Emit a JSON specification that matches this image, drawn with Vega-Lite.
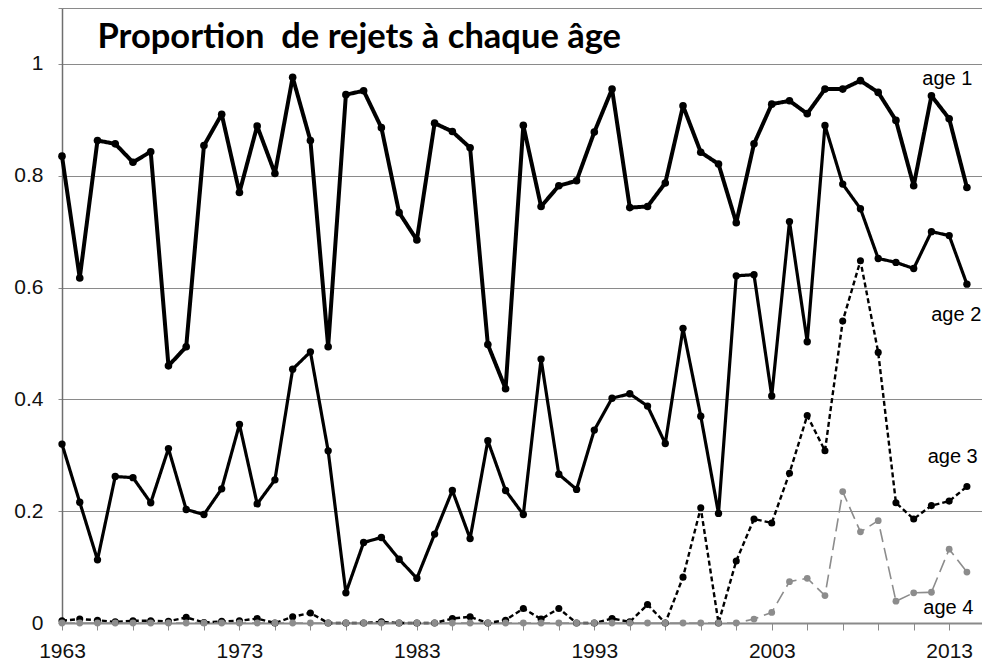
{
  "$schema": "https://vega.github.io/schema/vega-lite/v6.json",
  "autosize": {"type": "none"},
  "width": 920,
  "height": 615,
  "padding": {"left": 62, "top": 8, "right": 0, "bottom": 39},
  "background": "white",
  "config": {
    "view": {"stroke": null},
    "axis": {"labelFont": "Liberation Sans", "labelFontSize": 21, "labelColor": "#111111", "labelOverlap": false}
  },
  "datasets": {
    "main": [
      {"year": 1963, "a1": 0.835, "a2": 0.320, "a3": 0.004, "a4": 0},
      {"year": 1964, "a1": 0.617, "a2": 0.216, "a3": 0.007, "a4": 0},
      {"year": 1965, "a1": 0.863, "a2": 0.113, "a3": 0.005, "a4": 0},
      {"year": 1966, "a1": 0.857, "a2": 0.262, "a3": 0.002, "a4": 0},
      {"year": 1967, "a1": 0.824, "a2": 0.260, "a3": 0.004, "a4": 0},
      {"year": 1968, "a1": 0.843, "a2": 0.215, "a3": 0.004, "a4": 0},
      {"year": 1969, "a1": 0.460, "a2": 0.312, "a3": 0.003, "a4": 0},
      {"year": 1970, "a1": 0.494, "a2": 0.203, "a3": 0.010, "a4": 0},
      {"year": 1971, "a1": 0.854, "a2": 0.194, "a3": 0.001, "a4": 0},
      {"year": 1972, "a1": 0.910, "a2": 0.240, "a3": 0.003, "a4": 0},
      {"year": 1973, "a1": 0.770, "a2": 0.355, "a3": 0.004, "a4": 0},
      {"year": 1974, "a1": 0.889, "a2": 0.213, "a3": 0.008, "a4": 0},
      {"year": 1975, "a1": 0.804, "a2": 0.256, "a3": 0, "a4": 0},
      {"year": 1976, "a1": 0.976, "a2": 0.454, "a3": 0.011, "a4": 0},
      {"year": 1977, "a1": 0.863, "a2": 0.485, "a3": 0.018, "a4": 0},
      {"year": 1978, "a1": 0.494, "a2": 0.308, "a3": 0, "a4": 0},
      {"year": 1979, "a1": 0.945, "a2": 0.054, "a3": 0, "a4": 0},
      {"year": 1980, "a1": 0.952, "a2": 0.144, "a3": 0, "a4": 0},
      {"year": 1981, "a1": 0.886, "a2": 0.153, "a3": 0.002, "a4": 0},
      {"year": 1982, "a1": 0.734, "a2": 0.114, "a3": 0, "a4": 0},
      {"year": 1983, "a1": 0.685, "a2": 0.080, "a3": 0, "a4": 0},
      {"year": 1984, "a1": 0.894, "a2": 0.159, "a3": 0, "a4": 0},
      {"year": 1985, "a1": 0.879, "a2": 0.237, "a3": 0.008, "a4": 0},
      {"year": 1986, "a1": 0.850, "a2": 0.151, "a3": 0.011, "a4": 0},
      {"year": 1987, "a1": 0.498, "a2": 0.326, "a3": 0, "a4": 0},
      {"year": 1988, "a1": 0.419, "a2": 0.237, "a3": 0.005, "a4": 0},
      {"year": 1989, "a1": 0.890, "a2": 0.194, "a3": 0.026, "a4": 0},
      {"year": 1990, "a1": 0.745, "a2": 0.472, "a3": 0.007, "a4": 0},
      {"year": 1991, "a1": 0.782, "a2": 0.266, "a3": 0.026, "a4": 0},
      {"year": 1992, "a1": 0.791, "a2": 0.239, "a3": 0, "a4": 0},
      {"year": 1993, "a1": 0.878, "a2": 0.345, "a3": 0, "a4": 0},
      {"year": 1994, "a1": 0.955, "a2": 0.402, "a3": 0.008, "a4": 0},
      {"year": 1995, "a1": 0.743, "a2": 0.410, "a3": 0.002, "a4": 0},
      {"year": 1996, "a1": 0.745, "a2": 0.388, "a3": 0.033, "a4": 0},
      {"year": 1997, "a1": 0.787, "a2": 0.321, "a3": 0, "a4": 0},
      {"year": 1998, "a1": 0.925, "a2": 0.527, "a3": 0.082, "a4": 0},
      {"year": 1999, "a1": 0.842, "a2": 0.370, "a3": 0.206, "a4": 0},
      {"year": 2000, "a1": 0.821, "a2": 0.196, "a3": 0, "a4": 0},
      {"year": 2001, "a1": 0.716, "a2": 0.621, "a3": 0.111, "a4": 0},
      {"year": 2002, "a1": 0.857, "a2": 0.623, "a3": 0.186, "a4": 0.007},
      {"year": 2003, "a1": 0.928, "a2": 0.406, "a3": 0.179, "a4": 0.019},
      {"year": 2004, "a1": 0.934, "a2": 0.718, "a3": 0.268, "a4": 0.074},
      {"year": 2005, "a1": 0.911, "a2": 0.503, "a3": 0.371, "a4": 0.080},
      {"year": 2006, "a1": 0.955, "a2": 0.890, "a3": 0.308, "a4": 0.049},
      {"year": 2007, "a1": 0.955, "a2": 0.785, "a3": 0.540, "a4": 0.235},
      {"year": 2008, "a1": 0.970, "a2": 0.741, "a3": 0.648, "a4": 0.163},
      {"year": 2009, "a1": 0.949, "a2": 0.652, "a3": 0.484, "a4": 0.183},
      {"year": 2010, "a1": 0.899, "a2": 0.645, "a3": 0.215, "a4": 0.039},
      {"year": 2011, "a1": 0.782, "a2": 0.634, "a3": 0.186, "a4": 0.054},
      {"year": 2012, "a1": 0.943, "a2": 0.700, "a3": 0.210, "a4": 0.055},
      {"year": 2013, "a1": 0.902, "a2": 0.693, "a3": 0.218, "a4": 0.132},
      {"year": 2014, "a1": 0.779, "a2": 0.606, "a3": 0.244, "a4": 0.091}
    ],
    "labels": [
      {"year": 2012.9, "value": 0.962, "t": "age 1"},
      {"year": 2013.4, "value": 0.540, "t": "age 2"},
      {"year": 2013.2, "value": 0.286, "t": "age 3"},
      {"year": 2012.95, "value": 0.016, "t": "age 4"}
    ],
    "title": [
      {"year": 1965, "value": 1.0286, "t": "Proportion \u00a0de rejets à chaque âge"}
    ]
  },
  "encoding": {
    "x": {
      "field": "year", "type": "quantitative",
      "scale": {"domain": [1963, 2014.85], "nice": false, "zero": false},
      "axis": {
        "title": null,
        "values": [1963, 1965, 1967, 1969, 1971, 1973, 1975, 1977, 1979, 1981, 1983, 1985, 1987, 1989, 1991, 1993, 1995, 1997, 1999, 2001, 2003, 2005, 2007, 2009, 2011, 2013],
        "labelExpr": "(datum.value - 1963) % 10 == 0 ? toString(datum.value) : ''",
        "labelOverlap": false,
        "labelFlush": false,
        "grid": false,
        "domainColor": "#8a8a8a",
        "domainWidth": 2,
        "tickColor": "#8a8a8a",
        "tickWidth": 1,
        "tickSize": 7,
        "labelPadding": 10
      }
    },
    "y": {
      "field": "value", "type": "quantitative",
      "scale": {"domain": [0, 1.1], "nice": false},
      "axis": {
        "title": null,
        "values": [0, 0.2, 0.4, 0.6, 0.8, 1, 1.1],
        "labelExpr": "datum.value > 1.05 ? '' : toString(datum.value)",
        "labelOverlap": false,
        "labelFlush": false,
        "grid": true,
        "gridColor": "#8a8a8a",
        "gridWidth": 1,
        "domainColor": "#6f6f6f",
        "domainWidth": 1.5,
        "tickColor": "#8a8a8a",
        "tickSize": 4,
        "labelPadding": 15
      }
    }
  },
  "layer": [
    {
      "data": {"name": "main"},
      "transform": [{"fold": ["a1", "a2", "a3", "a4"], "as": ["series", "value"]}],
      "mark": {"type": "line", "strokeJoin": "round", "strokeCap": "butt"},
      "encoding": {
        "color": {
          "field": "series", "type": "nominal", "legend": null,
          "scale": {"domain": ["a1", "a2", "a3", "a4"], "range": ["#000000", "#000000", "#000000", "#8c8c8c"]}
        },
        "strokeWidth": {
          "field": "series", "type": "nominal", "legend": null,
          "scale": {"domain": ["a1", "a2", "a3", "a4"], "range": [4, 1.6, 1.6, 2.2]}
        },
        "strokeDash": {
          "field": "series", "type": "nominal", "legend": null,
          "scale": {"domain": ["a1", "a2", "a3", "a4"], "range": [[1, 0], [1, 0], [5, 3], [13, 6]]}
        }
      }
    },
    {
      "data": {"name": "main"},
      "transform": [{"fold": ["a1", "a2", "a3", "a4"], "as": ["series", "value"]}],
      "mark": {"type": "point", "filled": true, "shape": "circle", "opacity": 1},
      "encoding": {
        "color": {"field": "series", "type": "nominal", "legend": null},
        "size": {
          "field": "series", "type": "nominal", "legend": null,
          "scale": {"domain": ["a1", "a2", "a3", "a4"], "range": [58, 46, 44, 38]}
        }
      }
    },
    {
      "data": {"name": "labels"},
      "mark": {"type": "text", "font": "Liberation Sans", "fontSize": 20, "align": "center", "baseline": "alphabetic", "color": "#000000"},
      "encoding": {
        "text": {"field": "t"}
      }
    },
    {
      "data": {"name": "title"},
      "mark": {"type": "text", "font": "Lato", "fontWeight": "bold", "fontSize": 34.5, "align": "left", "baseline": "alphabetic", "color": "#000000"},
      "encoding": {
        "text": {"field": "t"}
      }
    }
  ]
}
